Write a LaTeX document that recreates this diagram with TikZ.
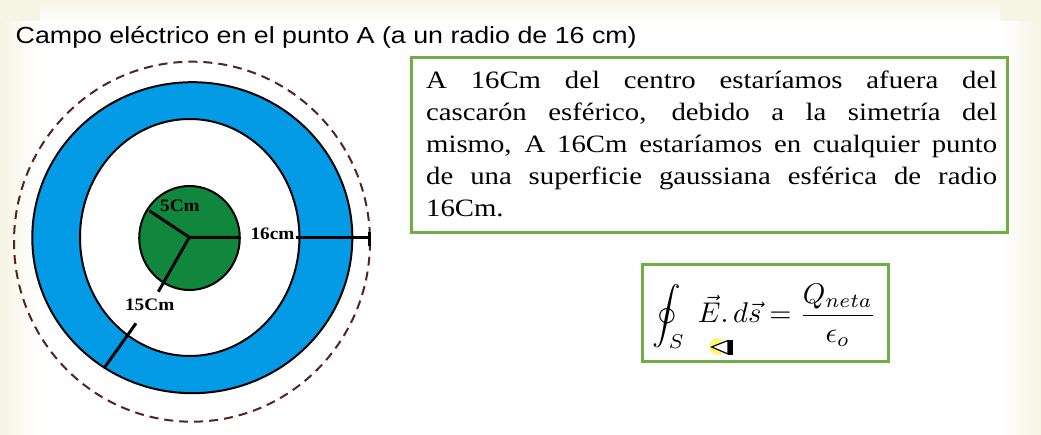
\documentclass[tikz,border=0pt]{standalone}
\usepackage{fontspec}
\newfontfamily\titlefont[FakeStretch=1.15]{Liberation Sans}
\newfontfamily\bodyfont[FakeStretch=1.15]{Liberation Serif}
\newfontfamily\lblfont[FakeStretch=1.1]{Liberation Serif}
\definecolor{ringblue}{RGB}{3,155,229}
\definecolor{coregreen}{RGB}{16,135,60}
\definecolor{dashbrown}{RGB}{85,35,35}
\definecolor{boxgreen}{RGB}{112,173,71}
\definecolor{cream}{RGB}{246,244,228}
\tikzset{
  rline/.style={line width=3pt, draw=black},
  outline/.style={line width=2pt, draw=black},
  lbl/.style={font=\lblfont\bfseries\fontsize{17.5}{20}\selectfont, inner sep=0pt},
  boxframe/.style={draw=boxgreen, line width=3pt},
}
\begin{document}
\begin{tikzpicture}[x=1pt,y=-1pt]
\useasboundingbox (0,0) rectangle (1041,435);
% background
\fill[cream] (0,0) rectangle (1041,435);
\fill[white] (40,22) rectangle (1000,435);
\shade[top color=cream, bottom color=white] (40,0) rectangle (1000,22);
\shade[left color=cream, right color=white] (0,22) rectangle (40,435);
\shade[left color=white, right color=cream] (1000,22) rectangle (1041,435);

% title
\node[font=\titlefont\fontsize{23.3}{28}\selectfont, anchor=base west, inner sep=0pt] (title) at (15.5,43.3)
  {Campo eléctrico en el punto A (a un radio de 16 cm)};

% gaussian surface (dashed)
\draw[dashbrown, line width=2pt, dash pattern=on 9pt off 6pt] (192,241.7) ellipse[x radius=178, y radius=180];
% spherical shell
\fill[ringblue, even odd rule] (192.3,237.7) ellipse[x radius=160, y radius=155.5]
  (189.7,237.5) ellipse[x radius=109.7, y radius=118.5];
\draw[outline] (192.3,237.7) ellipse[x radius=160, y radius=155.5];
\draw[outline] (189.7,237.5) ellipse[x radius=109.7, y radius=118.5];
% inner sphere
\filldraw[outline, fill=coregreen] (189.5,238) ellipse[x radius=50.3, y radius=52];

% radius lines
\coordinate (c) at (189.3,237.3);
\coordinate (g1) at (149.3,210.7);
\coordinate (g2) at (240,237.3);
\coordinate (g3) at (158.3,291.7);
\coordinate (p1) at (136,323.3);
\coordinate (p2) at (104,368.3);
\coordinate (h1) at (296,237.3);
\coordinate (h2) at (369.5,237.3);
\coordinate (t1) at (369.5,232.5);
\coordinate (t2) at (369.5,246.5);
\draw[rline] (g1) -- (c) -- (g2);
\draw[rline] (c) -- (g3);
\draw[rline] (p1) -- (p2);
\draw[rline] (h1) -- (h2);
\draw[rline] (t1) -- (t2);

% labels
\node[lbl] (l5) at (180,206) {5Cm};
\node[lbl] (l16) at (272.5,233.3) {16cm};
\node[lbl] (l15) at (149.7,305) {15Cm};

% explanation box
\draw[boxframe] (411.7,57.3) rectangle (1007.3,232.7);
\node[anchor=base west, inner sep=0pt, text width=571pt, align=justify,
      font=\bodyfont\fontsize{25}{32.1}\selectfont] (desc) at (426,88.3)
  {\makebox[571pt][s]{A 16Cm del centro estaríamos afuera del}\\
   \makebox[571pt][s]{cascarón esférico, debido a la simetría del}\\
   \makebox[571pt][s]{mismo, A 16Cm estaríamos en cualquier punto}\\
   \makebox[571pt][s]{de una superficie gaussiana esférica de radio}\\
   16Cm.};

% formula box
\draw[boxframe] (642,265) rectangle (888,362);
\node[scale=2.85, inner sep=0pt] (formula) at (764.5,316.5)
  {$\displaystyle \oint_S \; \vec{E}.\,d\vec{s} = \frac{Q_{neta}}{\epsilon_o}$};

% pointer icon
\fill[yellow!75!white, opacity=0.8] (717.3,346.7) circle (8);
\filldraw[fill=white, draw=black, line width=1.2pt] (711.7,347) -- (728,340.5) -- (728,354) -- cycle;
\fill[black] (728,340) rectangle (732.5,355);
\end{tikzpicture}
\end{document}
